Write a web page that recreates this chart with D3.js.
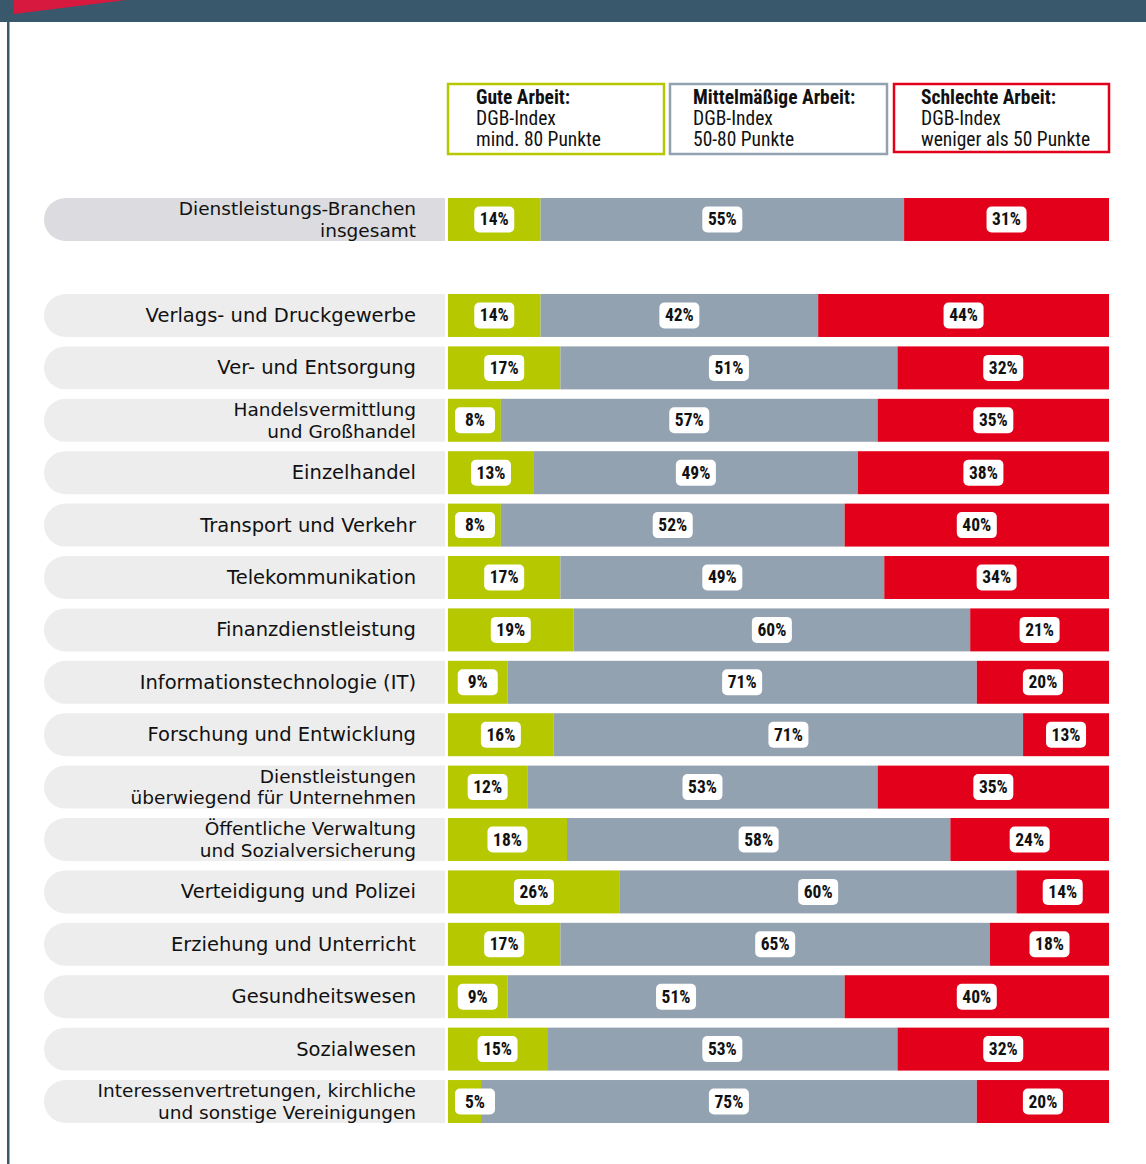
<!DOCTYPE html>
<html>
<head>
<meta charset="utf-8">
<script src="https://cdn.jsdelivr.net/npm/d3@7"></script>
<style>
  body { margin: 0; background: #fff; }
  svg { display: block; }
</style>
</head>
<body>
<div id="chart"></div>
<script>
// Branchen (label lines), Anteile gute / mittelmäßige / schlechte Arbeit in %
const labels = [
  ["Dienstleistungs-Branchen", "insgesamt"],
  ["Verlags- und Druckgewerbe"],
  ["Ver- und Entsorgung"],
  ["Handelsvermittlung", "und Großhandel"],
  ["Einzelhandel"],
  ["Transport und Verkehr"],
  ["Telekommunikation"],
  ["Finanzdienstleistung"],
  ["Informationstechnologie (IT)"],
  ["Forschung und Entwicklung"],
  ["Dienstleistungen", "überwiegend für Unternehmen"],
  ["Öffentliche Verwaltung", "und Sozialversicherung"],
  ["Verteidigung und Polizei"],
  ["Erziehung und Unterricht"],
  ["Gesundheitswesen"],
  ["Sozialwesen"],
  ["Interessenvertretungen, kirchliche", "und sonstige Vereinigungen"]
];
const gute = [14, 14, 17, 8, 13, 8, 17, 19, 9, 16, 12, 18, 26, 17, 9, 15, 5];
const mittel = [55, 42, 51, 57, 49, 52, 49, 60, 71, 71, 53, 58, 60, 65, 51, 53, 75];
const schlecht = [31, 44, 32, 35, 38, 40, 34, 21, 20, 13, 35, 24, 14, 18, 40, 32, 20];

const legendTitles = ["Gute Arbeit:", "Mittelmäßige Arbeit:", "Schlechte Arbeit:"];
const legendLines = [
  ["DGB-Index", "mind. 80 Punkte"],
  ["DGB-Index", "50-80 Punkte"],
  ["DGB-Index", "weniger als 50 Punkte"]
];

const colors = ["#b5c800", "#93a2b0", "#e2001a"];
const navy = "#3a586c";
const narrow = "'Liberation Sans Narrow', 'Roboto Condensed', sans-serif";

const width = 1146, height = 1164;
const svg = d3.select("#chart").append("svg")
  .attr("width", width)
  .attr("height", height);

// header band and left rule
svg.append("rect").attr("x", 0).attr("y", 0).attr("width", width).attr("height", 22).attr("fill", navy);
svg.append("path").attr("d", "M14,0 L126,0 L14,14 Z").attr("fill", "#d7193f");
svg.append("rect").attr("x", 7).attr("y", 22).attr("width", 2.5).attr("height", height - 22).attr("fill", navy);

// scales
const x = d3.scaleLinear().domain([0, 100]).range([448, 1109]);
const rowIdx = d3.range(1, labels.length);
const y = d3.scaleBand().domain(rowIdx).range([294, 1123]).paddingInner(0.18).paddingOuter(0);
const barH = y.bandwidth();
const rowY = i => i === 0 ? 198 : y(i);

// legend
const legendX = [448, 670, 894];
const legendW = [216, 217, 215];
const textX = [28, 23, 27];
const lg = svg.append("g").selectAll("g").data(legendTitles).join("g")
  .attr("transform", (d, i) => `translate(${legendX[i]},84)`);
lg.append("rect")
  .attr("width", (d, i) => legendW[i]).attr("height", (d, i) => i === 2 ? 68 : 70)
  .attr("fill", "#fff")
  .attr("stroke", (d, i) => colors[i]).attr("stroke-width", 2.5);
lg.append("text").attr("x", (d, i) => textX[i]).attr("y", 20)
  .attr("font-family", narrow)
  .attr("font-weight", "bold").attr("font-size", 19.5).attr("fill", "#111")
  .text(d => d);
lg.each(function(d, i) {
  d3.select(this).selectAll("text.sub").data(legendLines[i]).join("text")
    .attr("class", "sub")
    .attr("x", textX[i]).attr("y", (t, j) => 41 + j * 21)
    .attr("font-family", narrow)
    .attr("font-size", 19.5).attr("fill", "#111")
    .text(t => t);
});

// rows
const rows = svg.append("g").selectAll("g").data(labels).join("g")
  .attr("transform", (d, i) => `translate(0,${rowY(i)})`);

// label pill with rounded left end
const r = barH / 2;
rows.append("path")
  .attr("d", `M${44 + r},0 L445,0 L445,${barH} L${44 + r},${barH} A${r},${r} 0 0 1 ${44 + r},0 Z`)
  .attr("fill", (d, i) => i === 0 ? "#dcdce0" : "#ededed");

rows.append("text")
  .attr("text-anchor", "end")
  .attr("font-family", "'DejaVu Sans', sans-serif")
  .attr("font-size", d => d.length > 1 ? 18.5 : 19.5)
  .attr("fill", "#111")
  .each(function(d) {
    const n = d.length;
    d3.select(this).selectAll("tspan").data(d).join("tspan")
      .attr("x", 416)
      .attr("y", (t, j) => barH / 2 + 6.5 + (j - (n - 1) / 2) * 21.5)
      .text(t => t);
  });

// stacked segments
const stackRow = i => {
  const v = [gute[i], mittel[i], schlecht[i]];
  const tot = d3.sum(v);
  let acc = 0;
  return v.map((val, k) => {
    const s = { k, val, x0: acc / tot * 100, x1: (acc + val) / tot * 100 };
    acc += val;
    return s;
  });
};

rows.selectAll("rect.seg")
  .data((d, i) => stackRow(i))
  .join("rect").attr("class", "seg")
  .attr("x", d => x(d.x0))
  .attr("width", d => x(d.x1) - x(d.x0))
  .attr("y", 0).attr("height", barH)
  .attr("fill", d => colors[d.k]);

const pillW = 40, pillH = 26;
const pillCx = d => {
  const c = (x(d.x0) + x(d.x1)) / 2;
  return Math.max(c, x(d.x0) + 7 + pillW / 2);
};
const pills = rows.selectAll("g.pill")
  .data((d, i) => stackRow(i))
  .join("g").attr("class", "pill");
pills.append("rect")
  .attr("x", d => pillCx(d) - pillW / 2)
  .attr("y", barH / 2 - pillH / 2)
  .attr("width", pillW).attr("height", pillH)
  .attr("rx", 5)
  .attr("fill", "#fff");
pills.append("text")
  .attr("x", d => pillCx(d))
  .attr("y", barH / 2 + 6)
  .attr("text-anchor", "middle")
  .attr("font-family", narrow)
  .attr("font-weight", "bold")
  .attr("font-size", 17.5)
  .attr("fill", "#111")
  .text(d => d.val + "%");
</script>
</body>
</html>
